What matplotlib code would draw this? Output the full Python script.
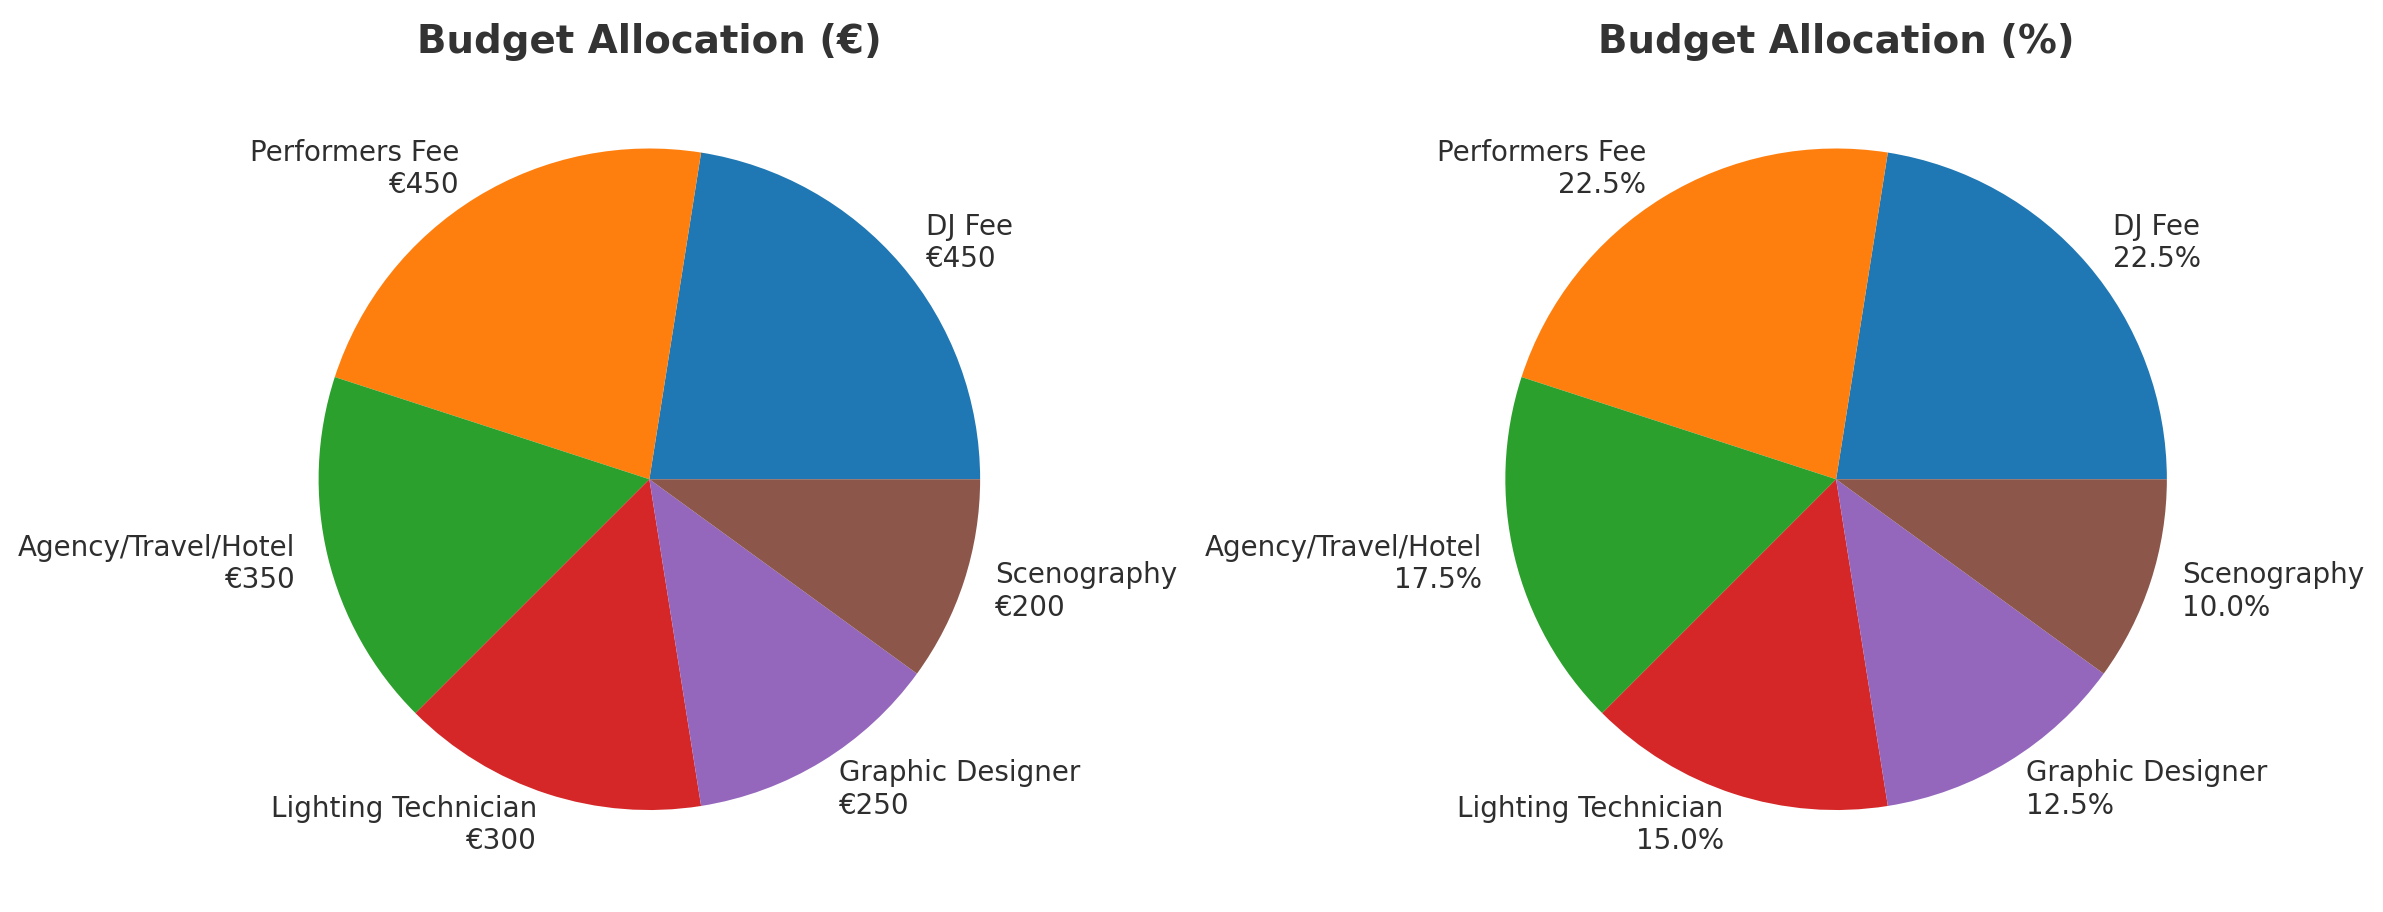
import matplotlib.pyplot as plt
import seaborn as sns

sns.set_style("white")
plt.rcParams['font.family'] = ['DejaVu Sans']

# Budget items
categories = ['DJ Fee', 'Performers Fee', 'Agency/Travel/Hotel',
              'Lighting Technician', 'Graphic Designer', 'Scenography']
amounts = [450, 450, 350, 300, 250, 200]

total = sum(amounts)
euro_labels = [f'{c}\n€{a}' for c, a in zip(categories, amounts)]
pct_labels = [f'{c}\n{a / total * 100:.1f}%' for c, a in zip(categories, amounts)]

colors = sns.color_palette('tab10')[:len(amounts)]

fig = plt.figure(figsize=(2383 / 150, 912 / 150), dpi=150)
ax1 = fig.add_axes([0.099, 0.021, 0.347, 0.907])
ax2 = fig.add_axes([0.597, 0.021, 0.347, 0.907])

for ax, labels, title in [(ax1, euro_labels, 'Budget Allocation (€)'),
                          (ax2, pct_labels, 'Budget Allocation (%)')]:
    ax.pie(amounts, labels=labels, colors=colors,
           wedgeprops={'linewidth': 0},
           textprops={'fontsize': 13.3, 'color': '#2e2e2e'})
    ax.set_title(title, fontsize=18.6, fontweight='bold', color='#333333')

fig.savefig('out.png', dpi=150)
